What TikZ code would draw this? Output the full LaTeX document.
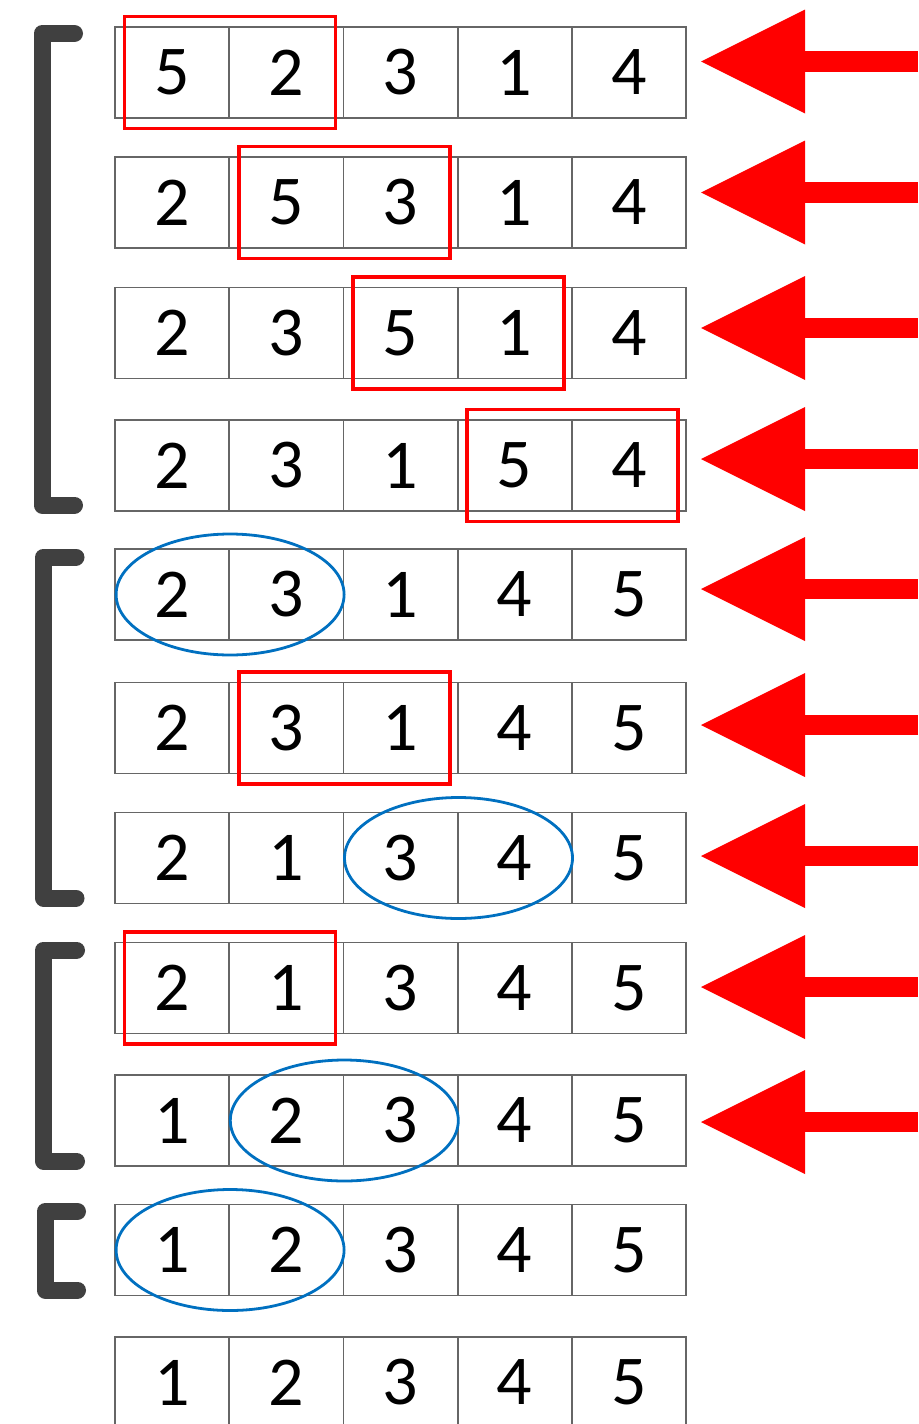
\documentclass[tikz,border=0pt]{standalone}
\usepackage{fontspec}
\setmainfont{Carlito}
\usetikzlibrary{arrows.meta, positioning, shapes.geometric}
\definecolor{cellgrey}{HTML}{666666}
\definecolor{brackgrey}{HTML}{404040}
\definecolor{swapred}{HTML}{FF0000}
\definecolor{keepblue}{HTML}{0070C0}
\tikzset{
  cell/.style={rectangle,draw=cellgrey,line width=0.9pt,minimum width=57.1pt,minimum height=45.5pt,inner sep=0pt,font=\fontsize{35}{40}\selectfont},
  swapbox/.style={rectangle,draw=swapred,line width=1.8pt,minimum width=105.5pt,minimum height=56pt,inner sep=0pt},
  keepring/.style={ellipse,draw=keepblue,line width=1.4pt,minimum width=114pt,minimum height=60.5pt,inner sep=0pt},
  bracket/.style={draw=brackgrey,line width=8.5pt,line cap=round,line join=round},
  passarrow/.style={draw=swapred,line width=10.25pt,-{Triangle[length=52pt,width=52pt,line width=0pt]}}
}

\begin{document}
\begin{tikzpicture}[x=0.5pt,y=-0.5pt]
\useasboundingbox (0,0) rectangle (918,1424);
\foreach \r/\y/\digs in {1/72.5/{5,2,3,1,4}, 2/202.5/{2,5,3,1,4}, 3/333/{2,3,5,1,4},
  4/465.5/{2,3,1,5,4}, 5/594.5/{2,3,1,4,5}, 6/728/{2,3,1,4,5}, 7/858/{2,1,3,4,5},
  8/988/{2,1,3,4,5}, 9/1120.5/{1,2,3,4,5}, 10/1250/{1,2,3,4,5}, 11/1382.5/{1,2,3,4,5}}
  \foreach \d [count=\c] in \digs
    \node[cell] (r\r-\c) at ({115+114.2*(\c-0.5)},\y) {\d};
\node[swapbox] (s1) at (r1-1.east) {};
\node[swapbox] (s2) at (r2-2.east) {};
\node[swapbox] (s3) at (r3-3.east) {};
\node[swapbox] (s4) at (r4-4.east) {};
\node[swapbox] (s6) at (r6-2.east) {};
\node[swapbox] (s8) at (r8-1.east) {};
\node[keepring] (k5) at (r5-1.east) {};
\node[keepring] (k7) at (r7-3.east) {};
\node[keepring] (k9) at (r9-2.east) {};
\node[keepring] (k10) at (r10-1.east) {};
\draw[bracket] (74.5,33.5) -- (42,33.5) -- (42,505) -- (74.5,505);
\draw[bracket] (76,557) -- (43.5,557) -- (43.5,898) -- (76,898);
\draw[bracket] (76.5,950) -- (43.5,950) -- (43.5,1161) -- (76.5,1161);
\draw[bracket] (77.5,1211.5) -- (45,1211.5) -- (45,1290) -- (77.5,1290);
\foreach \a/\y in {1/61.5, 2/192.5, 3/328, 4/459, 5/589, 6/725, 7/856, 8/987, 9/1122} {
  \coordinate (from\a) at (918,\y);
  \coordinate (tip\a) at (701,\y);
  \draw[passarrow] (from\a) -- (tip\a);
}
\end{tikzpicture}
\end{document}
